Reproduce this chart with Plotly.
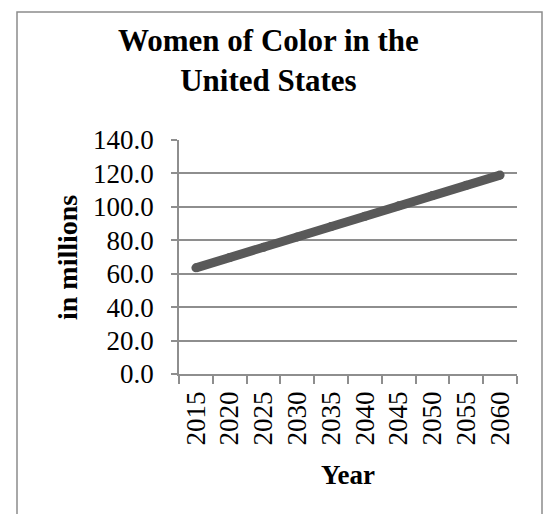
import plotly.graph_objects as go

# Projected population of women of color in the US (millions)
years = ["2015", "2020", "2025", "2030", "2035", "2040", "2045", "2050", "2055", "2060"]
women_of_color = [63.5, 69.7, 75.8, 82.0, 88.2, 94.4, 100.6, 106.8, 112.9, 119.0]
y_ticks = [0, 20, 40, 60, 80, 100, 120, 140]

W, H = 551, 514
ML, MR, MT, MB = 179, 34, 140, 140
PW, PH = W - ML - MR, H - MT - MB

SERIF = "Liberation Serif, Times New Roman, serif"
GRID = "#8e8e8e"
LINE = "#595959"


def px_x(p):
    return (p - ML) / PW


def px_y(p):
    return 1 - (p - MT) / PH


fig = go.Figure()
fig.add_trace(go.Scatter(
    x=years, y=women_of_color, mode="lines+markers",
    line=dict(color=LINE, width=9),
    marker=dict(color=LINE, size=9, line=dict(width=0)),
    hoverinfo="x+y", showlegend=False,
))

fig.update_layout(
    width=W, height=H,
    margin=dict(l=ML, r=MR, t=MT, b=MB),
    paper_bgcolor="white", plot_bgcolor="white",
    font=dict(family=SERIF, color="black", size=27),
    xaxis=dict(
        type="category", tickson="boundaries",
        range=[-0.5, len(years) - 0.5],
        tickmode="array", tickvals=years, ticktext=years,
        showline=True, linecolor=GRID, linewidth=1.5,
        ticks="outside", ticklen=8, tickcolor=GRID, tickwidth=1.5,
        tickangle=-90, showgrid=False, ticklabelstandoff=5,
        tickfont=dict(family=SERIF, size=27),
    ),
    yaxis=dict(
        range=[0, 140], tickvals=y_ticks, tickformat=".1f",
        showline=True, linecolor=GRID, linewidth=1.5,
        ticks="outside", ticklen=6, tickcolor=GRID, tickwidth=1.5,
        showgrid=True, gridcolor=GRID, gridwidth=1.5,
        zeroline=False, ticklabelstandoff=12,
        tickfont=dict(family=SERIF, size=27),
    ),
    shapes=[dict(
        type="rect", xref="paper", yref="paper",
        x0=px_x(17), x1=px_x(542), y0=px_y(530), y1=px_y(12),
        line=dict(color="#8c8c8c", width=1.5), fillcolor="rgba(0,0,0,0)",
        layer="below",
    )],
    annotations=[
        dict(text="<b>Women of Color in the<br>United States</b>",
             xref="paper", yref="paper", x=px_x(268), y=px_y(61),
             xanchor="center", yanchor="middle", showarrow=False,
             font=dict(family=SERIF, size=31), align="center"),
        dict(text="<b>in millions</b>", textangle=-90,
             xref="paper", yref="paper", x=px_x(67), y=px_y(257),
             xanchor="center", yanchor="middle", showarrow=False,
             font=dict(family=SERIF, size=28)),
        dict(text="<b>Year</b>",
             xref="paper", yref="paper", x=px_x(348), y=px_y(475),
             xanchor="center", yanchor="middle", showarrow=False,
             font=dict(family=SERIF, size=27)),
    ],
)

fig.write_html("out.html")
